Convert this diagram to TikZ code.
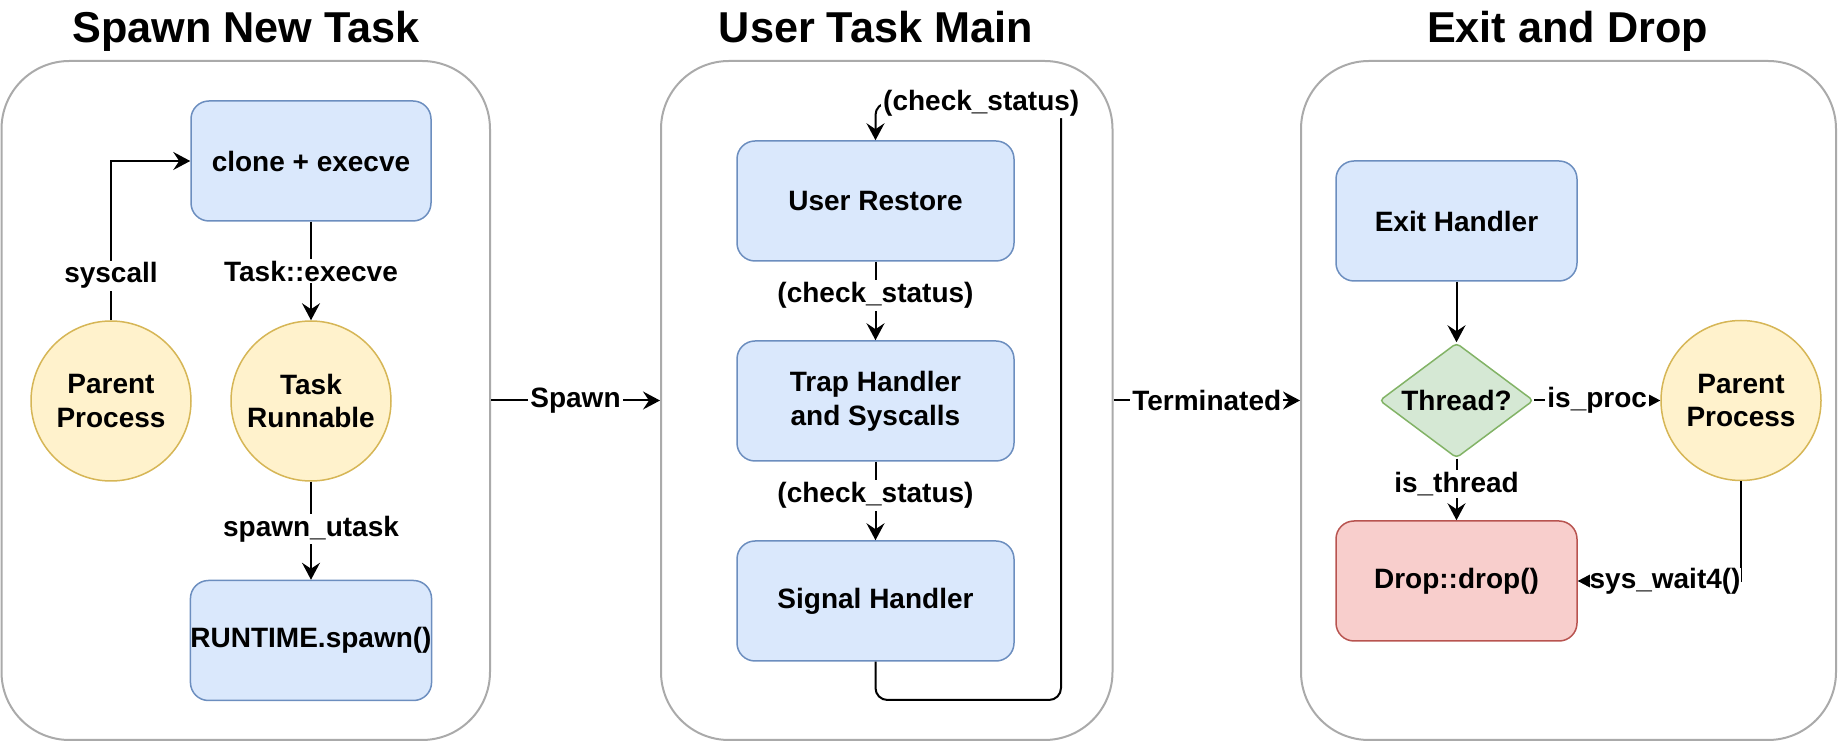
\documentclass[tikz,border=0pt]{standalone}
\usepackage{fontspec}
\setmainfont{Liberation Sans}
\usetikzlibrary{arrows.meta,shapes.geometric}
\definecolor{bfill}{HTML}{DAE8FC}
\definecolor{bdraw}{HTML}{6C8EBF}
\definecolor{yfill}{HTML}{FFF2CC}
\definecolor{ydraw}{HTML}{D6B656}
\definecolor{gfill}{HTML}{D5E8D4}
\definecolor{gdraw}{HTML}{82B366}
\definecolor{rfill}{HTML}{F8CECC}
\definecolor{rdraw}{HTML}{B85450}
\definecolor{cdraw}{RGB}{170,170,170}
\begin{document}
\begin{tikzpicture}[x=0.5pt,y=-0.5pt,
  every node/.style={font=\fontsize{14}{16.9}\selectfont\bfseries},
  cont/.style={draw=cdraw,line width=1pt,rounded corners=34pt,inner sep=0pt,minimum height=339.5pt},
  bbox/.style={draw=bdraw,fill=bfill,line width=0.75pt,rounded corners=9pt,minimum height=60pt,align=center,inner sep=0pt},
  rbox/.style={draw=rdraw,fill=rfill,line width=0.75pt,rounded corners=9pt,minimum height=60pt,align=center,inner sep=0pt},
  ybub/.style={circle,draw=ydraw,fill=yfill,line width=0.75pt,minimum size=80pt,align=center,inner sep=0pt},
  gdia/.style={diamond,draw=gdraw,fill=gfill,line width=0.75pt,rounded corners=2pt,aspect=1.34,minimum width=77pt,minimum height=57.5pt,inner sep=0pt},
  ttl/.style={font=\fontsize{21.6}{26}\selectfont\bfseries,anchor=base},
  lbl/.style={fill=white,inner sep=1pt},
  arr/.style={line width=1pt,-{Stealth[length=8.5pt,width=9pt,inset=3pt]}}]
\useasboundingbox (0,0) rectangle (1838,742);

% titles
\node[ttl] (t1) at (246,43) {Spawn New Task};
\node[ttl] (t2) at (875.8,43) {User Task Main};
\node[ttl] (t3) at (1567.5,43) {Exit and Drop};

% containers
\node[cont,minimum width=244.25pt] (c1) at (245.75,400.5) {};
\node[cont,minimum width=225.75pt] (c2) at (886.75,400.5) {};
\node[cont,minimum width=267.5pt] (c3) at (1568.5,400.5) {};

% left
\node[bbox,minimum width=120pt] (clone) at (311,161) {clone + execve};
\node[ybub] (pp1) at (111,401) {Parent\\Process};
\node[ybub] (tr) at (311,401) {Task\\Runnable};
\node[bbox,minimum width=120pt] (rt) at (311,640.5) {RUNTIME.spawn()};
\coordinate (sc) at (111,161);
\draw[arr] (pp1.north) -- node[lbl,pos=0.28]{syscall} (sc) -- (clone.west);
\draw[arr] (clone.south) -- node[lbl]{Task::execve} (tr.north);
\draw[arr] (tr.south) -- node[lbl,pos=0.48]{spawn\_utask} (rt.north);

% middle
\node[bbox,minimum width=138.5pt] (ur) at (875.5,201) {User Restore};
\node[bbox,minimum width=138.5pt] (th) at (875.5,401) {Trap Handler\\and Syscalls};
\node[bbox,minimum width=138.5pt] (sh) at (875.5,601) {Signal Handler};
\draw[arr] (ur.south) -- node[lbl,pos=0.43]{(check\_status)} (th.north);
\draw[arr] (th.south) -- node[lbl,pos=0.43]{(check\_status)} (sh.north);
\coordinate (lb) at (875.5,700);
\coordinate (rb) at (1061,700);
\coordinate (rtop) at (1061,103);
\coordinate (ltop) at (875.5,103);
\draw[arr,rounded corners=6pt] (sh.south) -- (lb) -- (rb) -- (rtop) -- node[lbl,pos=0.43]{(check\_status)} (ltop) -- (ur.north);

% right
\node[bbox,minimum width=120.5pt] (ex) at (1456.5,221) {Exit Handler};
\node[gdia] (thr) at (1456.5,400.5) {Thread?};
\node[rbox,minimum width=120.5pt] (drop) at (1456.5,581) {Drop::drop()};
\node[ybub] (pp2) at (1741,400.5) {Parent\\Process};
\draw[arr] (ex.south) -- (thr.north);
\draw[arr] (thr.east) -- node[lbl]{is\_proc} (pp2.west);
\draw[arr] (thr.south) -- node[lbl,pos=0.41]{is\_thread} (drop.north);
\coordinate (sw) at (1741,581);
\draw[arr] (pp2.south) -- (sw) -- node[lbl,inner sep=0pt,pos=0.465]{sys\_wait4()} (drop.east);

% between containers
\draw[arr] (c1.east) -- node[lbl]{Spawn} (c2.west);
\draw[arr] (c2.east) -- node[lbl]{Terminated} (c3.west);
\end{tikzpicture}
\end{document}
